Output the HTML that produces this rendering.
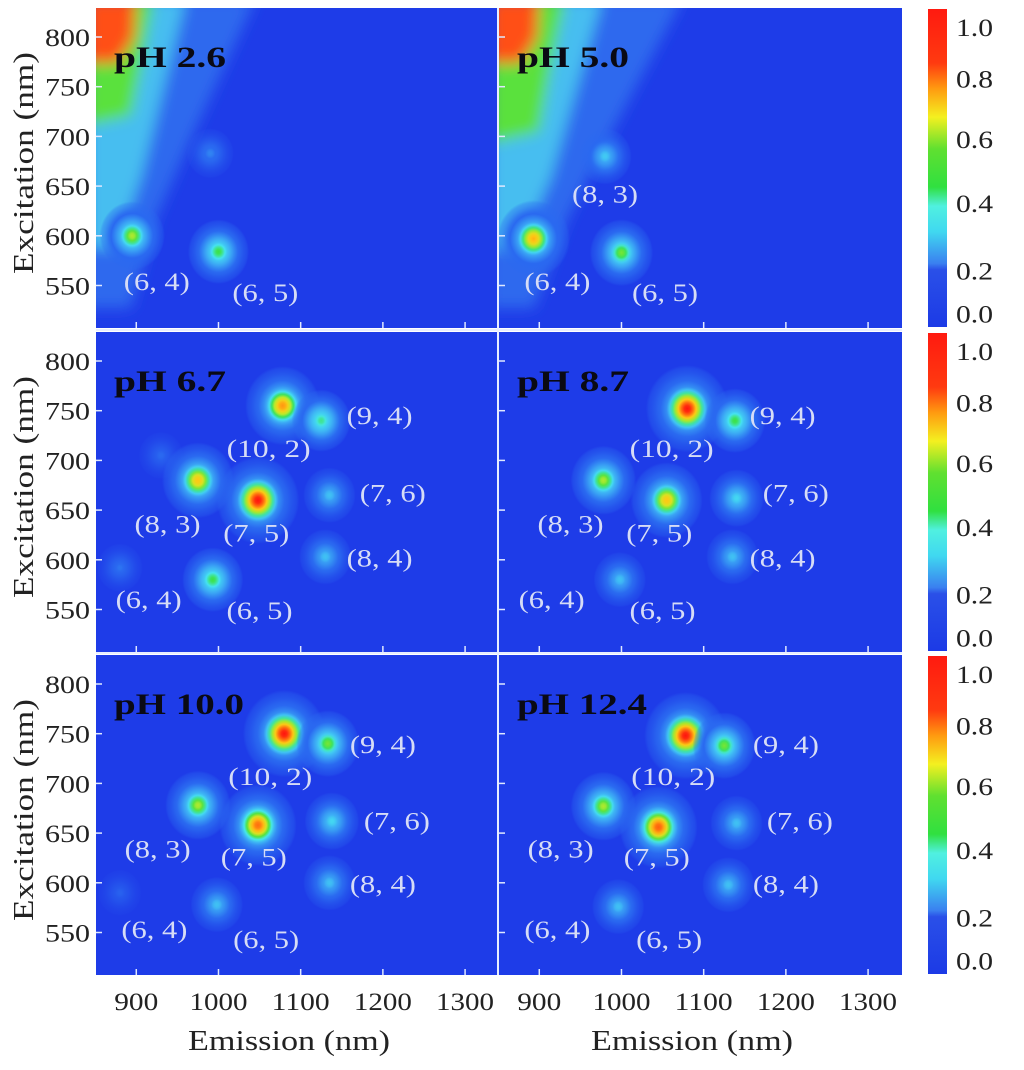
<!DOCTYPE html>
<html><head><meta charset="utf-8">
<style>
html,body{margin:0;padding:0;background:#fff;}
svg{display:block;}
text{font-family:"Liberation Serif",serif;}
</style></head>
<body>
<svg id="chart" width="1024" height="1070" viewBox="0 0 1024 1070" xmlns="http://www.w3.org/2000/svg">
<defs>
<filter id="blurH" x="-50%" y="-50%" width="200%" height="200%"><feGaussianBlur stdDeviation="7"/></filter>
<linearGradient id="cbGrad" x1="0" y1="0" x2="0" y2="1">
<stop offset="0" stop-color="#ff1a10"/>
<stop offset="0.17" stop-color="#ff3a10"/>
<stop offset="0.25" stop-color="#ff9a10"/>
<stop offset="0.34" stop-color="#f4f020"/>
<stop offset="0.44" stop-color="#60e030"/>
<stop offset="0.56" stop-color="#30e040"/>
<stop offset="0.62" stop-color="#50f0e0"/>
<stop offset="0.7" stop-color="#40d8f0"/>
<stop offset="0.8" stop-color="#3a80f0"/>
<stop offset="0.82" stop-color="#2a50e8"/>
<stop offset="1" stop-color="#1c3ae6"/>
</linearGradient>
</defs>
<g id="root"></g>
</svg>
<script>
// ---- data ----
const panelTitles = ["pH 2.6","pH 5.0","pH 6.7","pH 8.7","pH 10.0","pH 12.4"];
const xTicks = [900,1000,1100,1200,1300];
const yTicks = [800,750,700,650,600,550];
const cbTicks = ["1.0","0.8","0.6","0.4","0.2","0.0"];
// spots: [emission nm, excitation nm, intensity]
const spots26 = [[895,600,0.6],[1000,584,0.5],[990,683,0.18]];
const spots50 = [[893,597,0.78],[1000,583,0.55],[980,680,0.32]];
const spots67 = [[1078,755,0.82],[1125,740,0.45],[975,680,0.75],[1048,660,1.0],[1135,665,0.3],[1130,603,0.3],[993,580,0.5],[880,592,0.15],[930,705,0.12]];
const spots87 = [[1080,752,1.0],[1138,740,0.5],[978,680,0.6],[1055,660,0.75],[1140,662,0.35],[1135,603,0.3],[998,580,0.3]];
const spots100 = [[1080,750,1.0],[1133,740,0.55],[975,678,0.6],[1048,658,0.88],[1138,662,0.35],[1135,600,0.3],[998,578,0.3],[880,590,0.1]];
const spots124 = [[1078,748,1.0],[1125,738,0.55],[978,677,0.6],[1045,656,0.9],[1140,660,0.3],[1130,598,0.3],[996,576,0.3]];
const allSpots = [spots26,spots50,spots67,spots87,spots100,spots124];
// chirality labels: [text, emission nm, excitation nm]
const labels26 = [["(6, 4)",925,553],["(6, 5)",1057,542]];
const labels50 = [["(8, 3)",980,641],["(6, 4)",922,553],["(6, 5)",1053,542]];
const labelsMid = [["(9, 4)",1196,744],["(10, 2)",1061,711],["(7, 6)",1212,666],["(8, 3)",938,635],["(7, 5)",1046,626],["(8, 4)",1196,601],["(6, 4)",915,559],["(6, 5)",1050,548]];
const labelsBot = [["(9, 4)",1200,738],["(10, 2)",1063,706],["(7, 6)",1217,661],["(8, 3)",926,633],["(7, 5)",1043,625],["(8, 4)",1200,598],["(6, 4)",922,552],["(6, 5)",1058,542]];
const allLabels = [labels26,labels50,labelsMid,labelsMid,labelsBot,labelsBot];

// ---- layout ----
const NS="http://www.w3.org/2000/svg";
const root=document.getElementById('root');
const panelX=[96,499], panelY=[8,332,655], PW=[401,403], PH=320;
function xS(em,col){return panelX[col]+(em-851)*0.822;}
function yS(ex,row){return panelY[row]+29+(800-ex)*0.994;}
function mk(tag,attrs,parent){const e=document.createElementNS(NS,tag);for(const k in attrs)e.setAttribute(k,attrs[k]);(parent||root).appendChild(e);return e;}
const cmapV=[0,0.12,0.25,0.38,0.5,0.62,0.75,0.88,1];
const cmapC=[[30,60,232],[40,100,240],[60,170,245],[70,230,240],[60,225,70],[200,235,40],[255,200,20],[255,110,15],[255,20,15]];
function cmap(v){v=Math.max(0,Math.min(1,v));for(let i=1;i<cmapV.length;i++){if(v<=cmapV[i]){const t=(v-cmapV[i-1])/(cmapV[i]-cmapV[i-1]);const a=cmapC[i-1],b=cmapC[i];return `rgb(${Math.round(a[0]+(b[0]-a[0])*t)},${Math.round(a[1]+(b[1]-a[1])*t)},${Math.round(a[2]+(b[2]-a[2])*t)})`;}}return 'rgb(255,20,15)';}

let gid=0;
for(let p=0;p<6;p++){
  const col=p%2,row=Math.floor(p/2);
  const x0=panelX[col],y0=panelY[row],w=PW[col];
  const g=mk('g',{});
  
  
  const cid='clip'+p;
  const cp=mk('clipPath',{id:cid},g);mk('rect',{x:x0,y:y0,width:w,height:PH},cp);
  const bg=mk('rect',{x:x0,y:y0,width:w,height:PH,fill:'rgb(30,60,232)'},g);
  
  
  const inner=mk('g',{'clip-path':`url(#${cid})`},g);
  if(row===0){
    const hz=mk('g',{filter:'url(#blurH)'},inner);
    
    
    const s=col===0?1:1.15;
    mk('path',{d:`M${x0-10} ${y0-10} L${x0+160*s} ${y0-10} L${x0+100*s} ${y0+120} L${x0+60*s} ${y0+210} L${x0+35} ${y0+300} L${x0-10} ${y0+300}Z`,fill:'rgb(45,105,238)'},hz);
    mk('path',{d:`M${x0-10} ${y0-10} L${x0+90*s} ${y0-10} L${x0+65*s} ${y0+90} L${x0+45*s} ${y0+170} L${x0+20} ${y0+240} L${x0-10} ${y0+240}Z`,fill:'rgb(70,190,240)'},hz);
    mk('path',{d:`M${x0-10} ${y0-10} L${x0+58*s} ${y0-10} L${x0+45*s} ${y0+60} L${x0+35*s} ${y0+108*s} L${x0-10} ${y0+118*s}Z`,fill:'rgb(90,225,60)'},hz);
    mk('path',{d:`M${x0-10} ${y0-10} L${x0+40} ${y0-10} L${x0+38} ${y0+30} L${x0+22} ${y0+55} L${x0-10} ${y0+55}Z`,fill:'rgb(255,80,20)'},hz);
  }
  const sg=mk('g',{},inner);
  allSpots[p].forEach(d=>{
    const [em,ex,A]=d;
    const id='sg'+(gid++);
    const rg=mk('radialGradient',{id:id},sg);
    const steps=14;
    for(let k=0;k<=steps;k++){
      const t=k/steps;const r=t*3.6;
      const core=A*Math.exp(-r*r/2);
      const halo=0.38*Math.exp(-r*r/5);
      const v=Math.max(core,halo*Math.min(1,A*2.2));
      const op=Math.min(1,v/0.12);
      mk('stop',{offset:t,'stop-color':cmap(Math.max(v,0.13)),'stop-opacity':k===steps?0:op.toFixed(3)},rg);
    }
    const sig=5.5+6*A;
    const e=mk('ellipse',{cx:xS(em,col),cy:yS(ex,row),rx:sig*3.6,ry:sig*3.8,fill:`url(#${id})`},sg);
    
    
  });
  xTicks.forEach(v=>{const t=mk('line',{x1:xS(v,col),x2:xS(v,col),y1:y0+PH,y2:y0+PH-6,stroke:'#dfe8ff','stroke-width':1.5},g);
    
    });
  yTicks.forEach(v=>{const t=mk('line',{x1:x0,x2:x0+6,y1:yS(v,row),y2:yS(v,row),stroke:'#dfe8ff','stroke-width':1.5},g);
    
    });
  const tt=mk('text',{x:x0+18,y:y0+59,'font-size':30,'font-weight':'bold',fill:'#0a0a14',textLength:panelTitles[p].length>6?130:112,lengthAdjust:'spacingAndGlyphs'},g);
  tt.textContent=panelTitles[p];
  
  
  allLabels[p].forEach(l=>{
    const t=mk('text',{x:xS(l[1],col),y:yS(l[2],row),'font-size':25,fill:'#d6dcf6','text-anchor':'middle','dominant-baseline':'central',textLength:l[0].length>6?84:66,lengthAdjust:'spacingAndGlyphs'},g);
    t.textContent=l[0];
    
    
  });
  if(col===0){
    yTicks.forEach(v=>{const t=mk('text',{x:90,y:yS(v,row)+9,'font-size':25,fill:'#222','text-anchor':'end',textLength:45,lengthAdjust:'spacingAndGlyphs'});
      t.textContent=v;
      
      });
    const cy=y0+PH/2-5;
    const yt=mk('text',{x:33,y:cy,'font-size':28,fill:'#222','text-anchor':'middle',transform:`rotate(-90 33 ${cy})`,textLength:222,lengthAdjust:'spacingAndGlyphs'});
    yt.textContent='Excitation (nm)';
    
    
  }
  if(row===2){
    xTicks.forEach(v=>{const t=mk('text',{x:xS(v,col),y:1010,'font-size':25,fill:'#222','text-anchor':'middle',textLength:v>=1000?58:44,lengthAdjust:'spacingAndGlyphs'});
      t.textContent=v;
      
      });
    const xt=mk('text',{x:x0+193,y:1050,'font-size':28,fill:'#222','text-anchor':'middle',textLength:202,lengthAdjust:'spacingAndGlyphs'});
    xt.textContent='Emission (nm)';
    
    
  }
}
[[96,330,902,330],[96,653,902,653],[498,8,498,975]].forEach(s=>{const l=mk('line',{x1:s[0],y1:s[1],x2:s[2],y2:s[3],stroke:'#e8eeff','stroke-width':2});
  
  });
const cbFrac=[0.06,0.22,0.41,0.61,0.82,0.955];
for(let r=0;r<3;r++){
  const y0=panelY[r];
  const cb=mk('rect',{x:928,y:y0+1,width:19,height:PH-2,fill:'url(#cbGrad)'});
  
  
  cbTicks.forEach((v,i)=>{const t=mk('text',{x:956,y:y0+cbFrac[i]*PH+9,'font-size':25,fill:'#222',textLength:37,lengthAdjust:'spacingAndGlyphs'});
    t.textContent=v;
    
    });
}
</script>
</body></html>
